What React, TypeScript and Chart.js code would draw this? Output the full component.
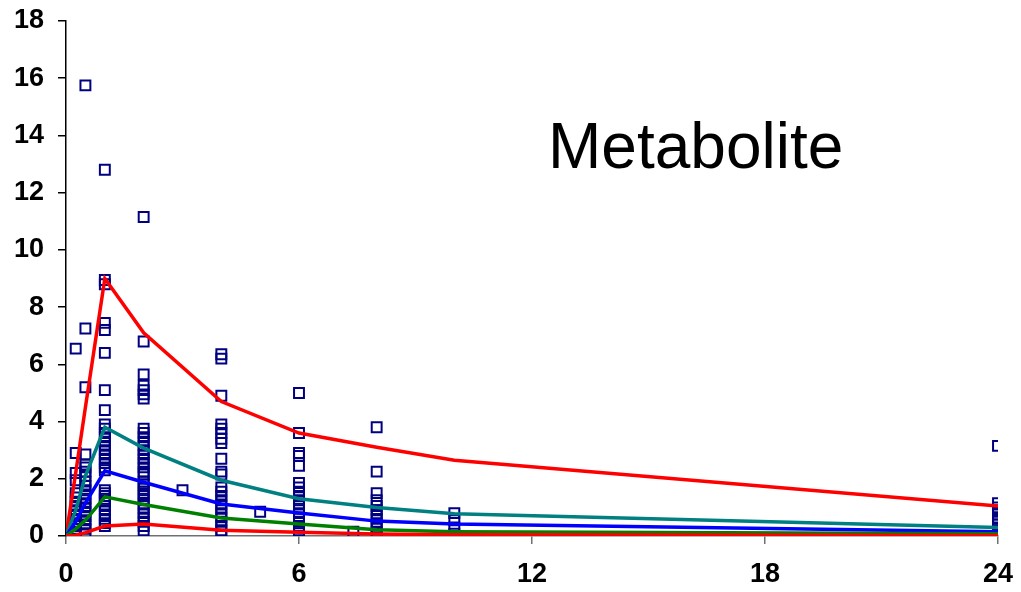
import React, { useEffect, useRef } from "react";
import { Chart, registerables } from "chart.js";

Chart.register(...registerables);

// Observation times (h) and observed concentrations at each time
const obsTimes = [0, 0.25, 0.5, 1, 2, 3, 4, 5, 6, 7.4, 8, 10, 24];
const obsValues: number[][] = [
  [0],
  [6.55, 2.9, 2.2, 1.95, 1.5, 1.35, 1.2, 1.05, 0.9, 0.75, 0.6, 0.45, 0.35, 0.25, 0.15, 0.05],
  [15.75, 7.25, 5.2, 2.85, 2.5, 2.4, 2.25, 2.1, 1.9, 1.75, 1.6, 1.45, 1.3, 1.15, 1.0, 0.85, 0.7, 0.55, 0.4, 0.25, 0.1],
  [12.8, 8.95, 8.8, 7.45, 7.2, 6.4, 5.1, 4.4, 3.9, 3.75, 3.6, 3.45, 3.3, 3.15, 3.0, 2.85, 2.7, 2.55, 2.4, 2.3, 1.6, 1.5, 1.4, 1.3, 1.2, 1.05, 0.9, 0.75, 0.6, 0.45, 0.35],
  [11.15, 6.8, 5.65, 5.25, 5.1, 4.95, 4.8, 3.75, 3.6, 3.45, 3.3, 3.15, 3.0, 2.85, 2.7, 2.55, 2.4, 2.25, 2.15, 1.9, 1.8, 1.65, 1.5, 1.4, 1.25, 1.1, 0.95, 0.8, 0.65, 0.5, 0.35, 0.2],
  [1.6],
  [6.35, 6.2, 4.9, 3.9, 3.75, 3.6, 3.4, 3.25, 2.7, 2.25, 2.15, 1.7, 1.55, 1.4, 1.25, 1.1, 0.95, 0.8, 0.65, 0.5, 0.35, 0.2, 0.05],
  [0.85],
  [5.0, 3.6, 2.9, 2.8, 2.45, 1.85, 1.7, 1.55, 1.4, 1.25, 1.1, 0.95, 0.8, 0.65, 0.5, 0.35, 0.2, 0.1],
  [0.15],
  [3.8, 2.25, 1.5, 1.25, 1.05, 0.9, 0.75, 0.6, 0.45, 0.3, 0.15, 0.05],
  [0.8, 0.55, 0.3, 0.08],
  [3.15, 1.15, 1.0, 0.9, 0.75, 0.6, 0.5, 0.4, 0.3, 0.2, 0.1, 0.0],
];

// Percentile curves
const lineTimes = [0, 0.25, 0.5, 1, 2, 4, 6, 8, 10, 24];
const p95 = [0, 2.2, 4.5, 9.0, 7.1, 4.7, 3.6, 3.1, 2.65, 1.05];
const p75 = [0, 0.9, 2.1, 3.8, 3.07, 1.95, 1.3, 1.0, 0.78, 0.3];
const p50 = [0, 0.5, 1.15, 2.28, 1.88, 1.12, 0.8, 0.52, 0.42, 0.15];
const p25 = [0, 0.25, 0.55, 1.37, 1.1, 0.63, 0.42, 0.22, 0.15, 0.08];
const p05 = [0, 0.03, 0.12, 0.35, 0.42, 0.2, 0.13, 0.07, 0.04, 0.02];

const xTicks = [0, 6, 12, 18, 24];
const chartTitle = "Metabolite";

const FONT = "'Liberation Sans', Arial, sans-serif";

const zeroPad = (s: any) => {
  s.paddingTop = 0;
  s.paddingBottom = 0;
  s.paddingLeft = 0;
  s.paddingRight = 0;
};

export default function App() {
  const ref = useRef<HTMLCanvasElement | null>(null);

  useEffect(() => {
    if (!ref.current) return;
    const scatterPts: { x: number; y: number }[] = [];
    obsTimes.forEach((t, i) => obsValues[i].forEach((v) => scatterPts.push({ x: t, y: v })));
    const mk = (vals: number[]) => lineTimes.map((t, i) => ({ x: t, y: vals[i] }));
    const lineDs = (vals: number[], color: string) => ({
      type: "line" as const,
      data: mk(vals),
      borderColor: color,
      borderWidth: 3.5,
      pointRadius: 0,
      tension: 0,
      fill: false,
    });

    const titlePlugin = {
      id: "innerTitle",
      afterDatasetsDraw(chart: any) {
        const ctx = chart.ctx;
        ctx.save();
        ctx.fillStyle = "#000";
        ctx.font = `64px ${FONT}`;
        ctx.textAlign = "left";
        ctx.textBaseline = "alphabetic";
        ctx.fillText(chartTitle, 548, 168);
        ctx.restore();
      },
    };

    const chart = new Chart(ref.current, {
      type: "scatter",
      data: {
        datasets: [
          lineDs(p05, "#FF0000"),
          lineDs(p25, "#008000"),
          lineDs(p50, "#0000FF"),
          lineDs(p75, "#008080"),
          lineDs(p95, "#FF0000"),
          {
            type: "scatter",
            data: scatterPts,
            pointStyle: "rect",
            pointRadius: 7,
            borderWidth: 2,
            borderColor: "#000080",
            backgroundColor: "rgba(0,0,0,0)",
          } as any,
        ],
      },
      options: {
        animation: false,
        responsive: false,
        layout: { padding: { top: 21, left: 0, right: 23, bottom: 0 } },
        plugins: { legend: { display: false }, tooltip: { enabled: false } },
        scales: {
          x: {
            type: "linear",
            min: 0,
            max: 24,
            afterFit: (s: any) => {
              s.height = 56;
              zeroPad(s);
            },
            afterBuildTicks: (s: any) => {
              s.ticks = xTicks.map((v) => ({ value: v }));
            },
            ticks: {
              color: "#000",
              font: { family: FONT, size: 27, weight: "bold" },
              padding: 14,
              maxRotation: 0,
            },
            grid: { drawOnChartArea: false, drawTicks: true, tickLength: 8, color: "#707070", lineWidth: 1.5 },
            border: { color: "#707070", width: 1.5 },
          },
          y: {
            type: "linear",
            min: 0,
            max: 18,
            afterFit: (s: any) => {
              s.width = 66;
              zeroPad(s);
            },
            ticks: {
              stepSize: 2,
              color: "#000",
              font: { family: FONT, size: 27, weight: "bold" },
              padding: 14,
            },
            grid: { drawOnChartArea: false, drawTicks: true, tickLength: 8, color: "#000", lineWidth: 1.5 },
            border: { color: "#000", width: 1.5 },
          },
        },
      },
      plugins: [titlePlugin],
    });
    return () => chart.destroy();
  }, []);

  return (
    <div style={{ position: "fixed", left: 0, top: 0, width: 1021, height: 592, background: "#fff" }}>
      <canvas ref={ref} width={1021} height={592} style={{ width: 1021, height: 592 }} />
    </div>
  );
}
